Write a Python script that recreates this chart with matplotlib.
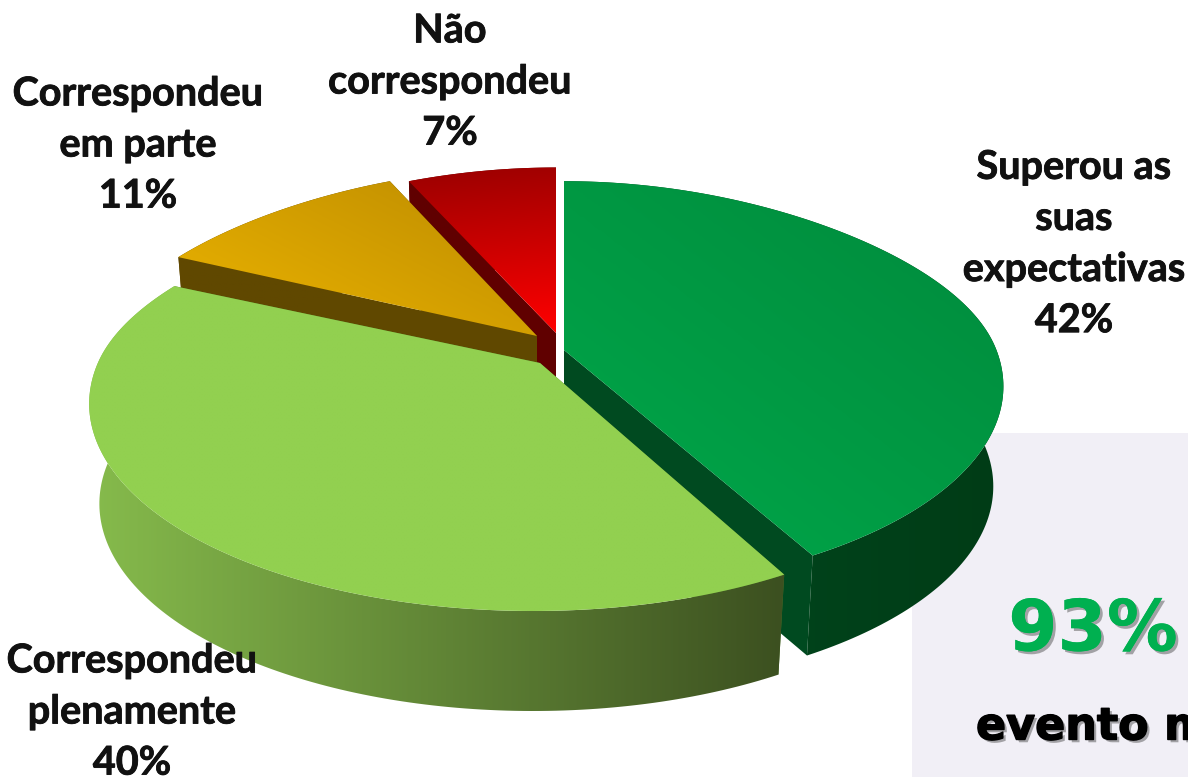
import numpy as np
import matplotlib
matplotlib.use('Agg')
import matplotlib.pyplot as plt
import matplotlib.patheffects as pe
from matplotlib.colors import LinearSegmentedColormap
from matplotlib.patches import Polygon, Rectangle

# dados
categorias = ['Superou as\nsuas\nexpectativas', 'Correspondeu\nplenamente', 'Correspondeu\nem parte', 'Não\ncorrespondeu']
valores = [42, 40, 11, 7]
destaque = '93%'
destaque_texto = 'evento m'

plt.rcParams['font.family'] = ['Lato', 'DejaVu Sans']

W, H = 1188, 777
fig = plt.figure(figsize=(W / 100, H / 100), dpi=100)
ax = fig.add_axes([0, 0, 1, 1])
ax.axis('off')

# perspectiva do disco
A, B, K, K_FUNDO = 436, 200, 0.187, 0.113
DEPTH = 100

# centro do arco, vertice, cores de cada fatia (em pixels da imagem)
centros = [(564, 348), (533, 365), (537, 336), (556, 336)]
vertices = [(564, 350), (540, 363), (537, 336), (556, 333)]
ampliar = [0.99, 1.0, 1.0, 1.0]
topo = [('#00a84a', '#008a3c', (0.6, -0.8)), ('#92d050', '#92d050', (1, 0)),
        ('#ecb400', '#bd8c00', (0.45, -0.9)), ('#ff0000', '#9a0000', (-0.1, -1))]
lado = [('#004a20', '#003c16', (1, 0)), ('#86bb4c', '#3c5020', (1, 0)),
        ('#604800', '#604800', (1, 0)), ('#600000', '#600000', (1, 0))]
corte = ['#004a20', '#4f7a2a', '#604800', '#600000']


def proj(t, cx, cy, s, down=False):
    c = np.cos(t)
    u, v = np.sin(t) * s, c * s
    # o fundo do disco aperta mais em x do que a frente
    dx = 1 + K * c + K_FUNDO * np.clip(c, 0, 1) ** 2
    dy = 1 + K * c
    x = A * u / dx
    y = -B * v / dy
    if down:
        return cx + 0.977 * x, cy + y + DEPTH
    return cx + x, cy + y


def gradiente(pts, c0, c1, direcao, zorder):
    pts = np.array(pts)
    x0, y0 = pts.min(axis=0)
    x1, y1 = pts.max(axis=0)
    xx, yy = np.meshgrid(np.linspace(0, 1, 200), np.linspace(0, 1, 200))
    g = xx * direcao[0] * (x1 - x0) + yy * direcao[1] * (y1 - y0)
    g = (g - g.min()) / max(g.max() - g.min(), 1e-9)
    cmap = LinearSegmentedColormap.from_list('g', [c0, c1])
    im = ax.imshow(g, extent=(x0, x1, y1, y0), cmap=cmap, aspect='auto', zorder=zorder, interpolation='bilinear')
    im.set_clip_path(Polygon(pts, closed=True, transform=ax.transData))


# painel do fundo
ax.add_patch(Rectangle((912, 433), W - 912, H - 433, fc='#f1eff6', ec='none', zorder=1))

fim = np.cumsum(valores) / np.sum(valores) * 2 * np.pi
inicio = np.concatenate(([0], fim[:-1]))

ordem = [3, 2, 0, 1]
z = 2
for i in ordem:
    cx, cy = centros[i]
    vx, vy = vertices[i]
    s = ampliar[i]
    ts = np.linspace(inicio[i], fim[i], 160)
    for t in (inicio[i], fim[i]):
        px, py = proj(t, cx, cy, s)
        qx, qy = proj(t, cx, cy, s, True)
        ax.add_patch(Polygon([(vx, vy), (px, py), (qx, qy), (vx, vy + DEPTH)], fc=corte[i], ec='none', zorder=z))
    z += 1
    tx, ty = proj(ts, cx, cy, s)
    bx, by = proj(ts, cx, cy, s, True)
    pts_lado = list(zip(tx, ty)) + list(zip(bx[::-1], by[::-1]))
    c0, c1, d = lado[i]
    gradiente(pts_lado, c0, c1, d, z)
    z += 1
    pts_topo = [(vx, vy)] + list(zip(tx, ty))
    c0, c1, d = topo[i]
    gradiente(pts_topo, c0, c1, d, z)
    z += 1

# rotulos
pos = [(1074, 244), (132, 712), (138, 145), (450, 82)]
for nome, v, (x, y) in zip(categorias, valores, pos):
    ax.text(x, y, f'{nome}\n{v}%', ha='center', va='center', fontsize=28.5, fontweight='bold',
            color='#111111', linespacing=1.47, zorder=30,
            path_effects=[pe.withStroke(linewidth=0.6, foreground='#111111')])

ax.text(1093, 631, destaque, ha='center', va='center', fontsize=51, fontweight='bold', family='DejaVu Sans',
        color='#00b050', zorder=30,
        path_effects=[pe.withSimplePatchShadow(offset=(2, -2), shadow_rgbFace='#555555', alpha=0.5), pe.Normal()])
ax.text(976, 727, destaque_texto, ha='left', va='center', fontsize=32, fontweight='bold', family='DejaVu Sans',
        color='black', zorder=30,
        path_effects=[pe.withSimplePatchShadow(offset=(2, -2), shadow_rgbFace='#555555', alpha=0.5),
                      pe.withStroke(linewidth=1, foreground='black')])

ax.set_xlim(0, W)
ax.set_ylim(H, 0)
fig.savefig('out.png', dpi=100)
